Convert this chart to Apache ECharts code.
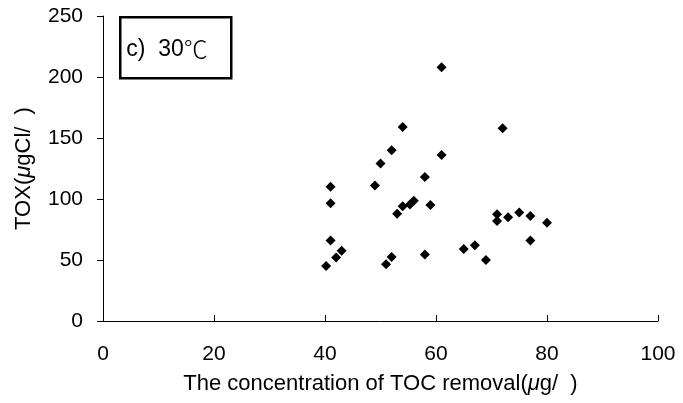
<!DOCTYPE html>
<html>
<head>
<meta charset="utf-8">
<script src="https://cdn.jsdelivr.net/npm/echarts@6/dist/echarts.min.js"></script>
<style>html,body{margin:0;padding:0;background:#fff}#c{width:683px;height:403px}</style>
</head>
<body>
<div id="c"></div>
<script>
var tocRemoval = [40.2, 41, 41, 41, 42, 43, 49, 50, 52, 51, 52, 53, 54, 54, 55.3, 56, 58, 58, 59, 61, 61, 65, 67, 69, 71, 71, 72, 73, 75, 77, 77, 80];
var toxValues  = [45, 110, 96.5, 66, 52, 57.5, 111, 129, 140, 46.5, 52.5, 88, 159, 94, 95.5, 98.5, 118, 54.5, 95, 208, 136, 59, 62, 50, 87.5, 82, 158, 85, 89, 86, 66, 80.5];
var xTicks = [0, 20, 40, 60, 80, 100];
var yTicks = [0, 50, 100, 150, 200, 250];
var panelPrefix = 'c)  30';
var panelUnit = '℃';

var pts = tocRemoval.map(function (x, i) { return [x, toxValues[i]]; });
var chart = echarts.init(document.getElementById('c'));
var font = 'Liberation Sans';
var nameStyle = {
  fontSize: 22, fontFamily: font, color: '#000',
  rich: {
    a: { fontSize: 22, fontFamily: font, color: '#000' },
    i: { fontSize: 22, fontFamily: font, fontStyle: 'italic', color: '#000' }
  }
};
chart.setOption({
  animation: false,
  backgroundColor: '#fff',
  grid: { left: 103, right: 25, top: 16, bottom: 82 },
  xAxis: {
    type: 'value', min: xTicks[0], max: xTicks[xTicks.length - 1], interval: 20,
    splitLine: { show: false },
    axisLine: { lineStyle: { color: '#000', width: 1 } },
    axisTick: { inside: true, length: 6, lineStyle: { color: '#000' } },
    axisLabel: { margin: 23, color: '#000', fontSize: 21, fontFamily: font },
    name: '{a|The concentration of TOC removal(}{i|μ}{a|g/  )}',
    nameLocation: 'middle', nameGap: 52,
    nameTextStyle: nameStyle
  },
  yAxis: {
    type: 'value', min: yTicks[0], max: yTicks[yTicks.length - 1], interval: 50,
    splitLine: { show: false },
    axisLine: { show: true, lineStyle: { color: '#000', width: 1 } },
    axisTick: { show: true, length: 6, lineStyle: { color: '#000' } },
    axisLabel: { margin: 20, color: '#000', fontSize: 21, fontFamily: font },
    name: '{a|TOX(}{i|μ}{a|gCl/  )}',
    nameLocation: 'middle', nameGap: 68, nameRotate: 90,
    nameTextStyle: nameStyle
  },
  series: [{
    type: 'scatter', data: pts, symbol: 'diamond', symbolSize: 10,
    itemStyle: { color: '#000', opacity: 1 }
  }],
  graphic: [{
    type: 'group', left: 119, top: 16,
    children: [
      { type: 'rect', shape: { x: 1, y: 1, width: 111, height: 61 },
        style: { fill: '#fff', stroke: '#000', lineWidth: 2.5 } },
      { type: 'text', x: 7, y: 33,
        style: {
          text: '{a|' + panelPrefix + '}{u|' + panelUnit + '}',
          verticalAlign: 'middle',
          rich: {
            a: { fontSize: 23, fontFamily: font, fill: '#000', color: '#000' },
            u: { fontSize: 24, fontFamily: 'Noto Sans CJK KR', fontWeight: 300, fill: '#000', color: '#000' }
          }
        } }
    ]
  }]
});
</script>
</body>
</html>
